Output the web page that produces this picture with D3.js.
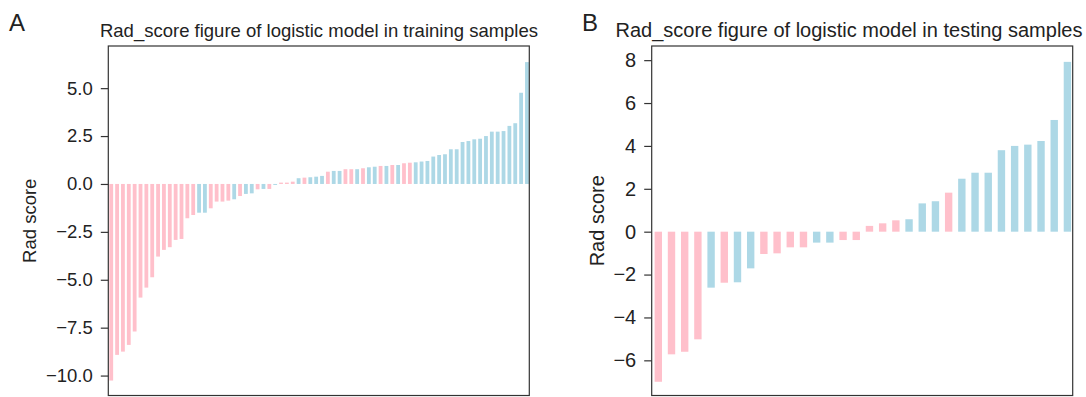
<!DOCTYPE html>
<html><head><meta charset="utf-8">
<script src="https://cdn.jsdelivr.net/npm/d3@7/dist/d3.min.js"></script>
<style>body{margin:0;background:#fff}svg{display:block}text{font-family:"Liberation Sans",Arial,sans-serif;fill:#222}</style>
</head><body><svg id="c" width="1086" height="397"></svg>
<script>
// ---- data ----
const trainValues = [-10.26,-8.92,-8.75,-8.40,-7.70,-5.93,-5.41,-4.87,-3.79,-3.44,-3.30,-2.92,-2.87,-1.79,-1.62,-1.50,-1.50,-1.27,-0.92,-0.92,-0.87,-0.80,-0.63,-0.52,-0.49,-0.28,-0.26,-0.26,-0.05,0.07,0.07,0.12,0.30,0.33,0.35,0.38,0.42,0.64,0.68,0.68,0.77,0.77,0.77,0.82,0.87,0.90,0.94,0.94,0.99,0.99,1.08,1.11,1.13,1.17,1.20,1.43,1.51,1.55,1.81,1.81,2.19,2.24,2.33,2.36,2.50,2.73,2.73,2.76,3.03,3.17,4.76,6.36];
// class label per bar: 0 = pink group, 1 = blue group
const trainClasses = [0,0,0,0,0,0,0,0,0,0,0,0,0,0,0,1,1,0,0,0,0,1,0,1,1,0,1,0,1,0,0,0,1,0,1,1,1,0,1,1,0,0,1,0,1,1,0,1,0,1,0,0,1,1,1,1,1,1,1,1,1,1,1,1,1,1,1,1,1,1,1,1];
const testValues = [-7.00,-5.72,-5.60,-5.02,-2.61,-2.38,-2.36,-1.71,-1.04,-1.01,-0.73,-0.73,-0.51,-0.51,-0.39,-0.39,0.27,0.39,0.53,0.58,1.32,1.42,1.82,2.47,2.75,2.75,3.80,4.00,4.06,4.23,5.21,7.92];
const testClasses = [0,0,0,0,1,0,1,1,0,0,0,0,1,1,0,0,0,0,0,1,1,1,0,1,1,1,1,1,1,1,1,1];
const trainTicks = [5.0,2.5,0.0,-2.5,-5.0,-7.5,-10.0];
const testTicks = [8,6,4,2,0,-2,-4,-6];
const titles = ["Rad_score figure of logistic model in training samples","Rad_score figure of logistic model in testing samples"];
const panelLetters = ["A","B"];
const yLabel = "Rad score";

const color = d3.scaleOrdinal().domain([0,1]).range(["#FFC0CB","#ADD8E6"]);
const svg = d3.select("#c");

function panel(cfg){
  const g = svg.append("g");
  const x = d3.scaleLinear().domain([-0.5, cfg.values.length-0.6]).range([cfg.x0, cfg.x1]);
  const y = d3.scaleLinear().domain(cfg.ydom).range([cfg.y1, cfg.y0]);
  const bw = (x(1)-x(0))*cfg.bw;
  g.selectAll("rect.bar").data(cfg.values).join("rect").attr("class","bar")
    .attr("x",(d,i)=>x(i)-bw/2).attr("width",bw)
    .attr("y",d=>y(Math.max(0,d))).attr("height",d=>Math.abs(y(d)-y(0)))
    .attr("fill",(d,i)=>color(cfg.classes[i]));
  const ax = d3.axisLeft(y).tickValues(cfg.ticks).tickSize(7.5).tickPadding(8)
    .tickFormat(d=>d3.format(cfg.fmt)(d).replace("-","\u2212"));
  const a = g.append("g").attr("transform",`translate(${cfg.x0},0)`).call(ax);
  a.select(".domain").remove();
  a.selectAll(".tick line").attr("stroke","#333").attr("stroke-width",1.2);
  a.selectAll(".tick text").style("font-size",cfg.fs+"px").attr("fill","#222");
  g.append("rect").attr("x",cfg.x0).attr("y",cfg.y0).attr("width",cfg.x1-cfg.x0).attr("height",cfg.y1-cfg.y0)
    .attr("fill","none").attr("stroke","#333").attr("stroke-width",1.2);
  g.append("text").attr("x",cfg.tx).attr("y",37).attr("text-anchor","middle").style("font-size",cfg.fs+"px").text(cfg.title);
  g.append("text").attr("x",cfg.lx).attr("y",31).style("font-size","24px").text(cfg.letter);
  g.append("text").attr("transform",`translate(${cfg.ylx},${(cfg.y0+cfg.y1)/2}) rotate(-90)`).attr("text-anchor","middle")
    .style("font-size",cfg.fs+"px").text(yLabel);
}
panel({values:trainValues,classes:trainClasses,ticks:trainTicks,fmt:".1f",ydom:[-11.04,7.20],x0:108.3,x1:529.3,y0:46,y1:395.5,bw:0.65,fs:18.5,title:titles[0],tx:319,letter:panelLetters[0],lx:9,ylx:36});
panel({values:testValues,classes:testClasses,ticks:testTicks,fmt:"d",ydom:[-7.64,8.66],x0:651.7,x1:1072.7,y0:46,y1:395.5,bw:0.56,fs:20,title:titles[1],tx:849,letter:panelLetters[1],lx:582,ylx:604});
</script></body></html>
